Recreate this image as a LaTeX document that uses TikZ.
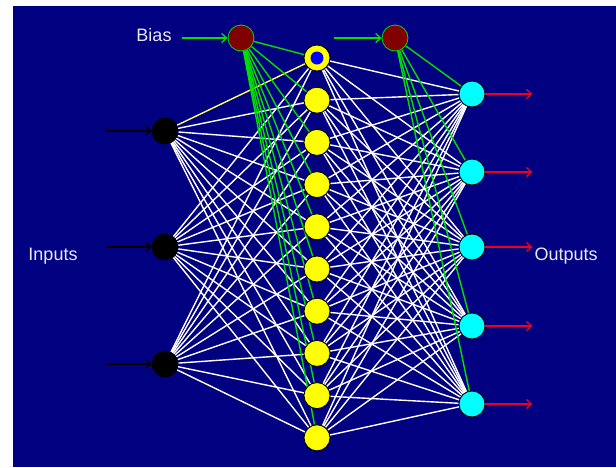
\documentclass[tikz,border=0pt]{standalone}
\usepackage{fontspec}
\setmainfont{Liberation Sans}
\usetikzlibrary{arrows.meta, backgrounds}
\definecolor{navybg}{HTML}{000080}
\definecolor{biasred}{HTML}{800000}
\definecolor{linkgreen}{HTML}{00E000}
\definecolor{labelwhite}{HTML}{E8E8FF}
\definecolor{outcyan}{HTML}{00FFFF}
\definecolor{hidyellow}{HTML}{FFFF00}
\definecolor{arrowred}{HTML}{F00020}
\begin{document}
\begin{tikzpicture}[
    x=1pt, y=-1pt,
    neuron/.style={circle, draw=black, line width=0.8pt, minimum size=26pt, inner sep=0pt},
    input/.style={neuron, fill=black},
    hidden/.style={neuron, fill=hidyellow},
    output/.style={neuron, fill=outcyan},
    bias/.style={neuron, fill=biasred, draw=linkgreen},
    link/.style={white, line width=1.4pt},
    biaslink/.style={linkgreen, line width=1.4pt},
    arrow/.style={-{Straight Barb[length=5pt, width=9pt]}, line width=1.3pt},
    label/.style={font=\fontsize{18}{21}\selectfont, text=labelwhite},
]
\useasboundingbox (0,0) rectangle (616,467);

% Neurons
\node[bias] (B1) at (241,38) {};
\node[bias] (B2) at (395,38) {};
\foreach \i/\y in {1/131, 2/247, 3/364}
    \node[input] (I\i) at (165,\y) {};
\foreach \i in {0,...,9}
    \node[hidden] (H\i) at (317,{58+42.2*\i}) {};
\foreach \i/\y in {1/94, 2/172, 3/247, 4/326, 5/404}
    \node[output] (O\i) at (472,\y) {};
\fill[blue] (H0) circle (6.5pt);

\begin{scope}[on background layer]
% Background
\fill[white] (0,0) rectangle (616,467);
\fill[navybg] (13,6) rectangle (616,467);
% Links input -> hidden
\foreach \i in {1,2,3}
    \foreach \j in {1,...,9}
        \draw[link] (I\i) -- (H\j);
\draw[link] (I2) -- (H0);
\draw[link] (I3) -- (H0);
\draw[link, hidyellow!60!white] (I1) -- (H0);
% Links hidden -> output
\foreach \j in {0,...,9}
    \foreach \k in {1,...,5}
        \draw[link] (H\j) -- (O\k);
% Bias links
\foreach \j in {0,...,9}
    \draw[biaslink] (B1) -- (H\j);
\foreach \k in {1,...,5}
    \draw[biaslink] (B2) -- (O\k);
\end{scope}

% Labels
\node[label] (bias) at (154,35) {Bias};
\node[label] (inputs) at (53,256) {Inputs};
\node[label, anchor=west] (outputs) at (531,256) {Outputs};

% Input arrows
\foreach \i in {1,2,3}
    \draw[arrow, black] (I\i.west) ++(-46,0) coordinate (a\i) -- (I\i.west);
% Bias arrows
\draw[arrow, linkgreen] (bias.east) ++(7,3) coordinate (b1) -- (B1.west);
\draw[arrow, linkgreen] (H0.east) ++(4,-20) coordinate (b2) -- (B2.west);
% Output arrows
\foreach \k in {1,...,5}
    \draw[arrow, arrowred] (O\k.east) -- ++(47,0) coordinate (e\k);
\end{tikzpicture}
\end{document}
